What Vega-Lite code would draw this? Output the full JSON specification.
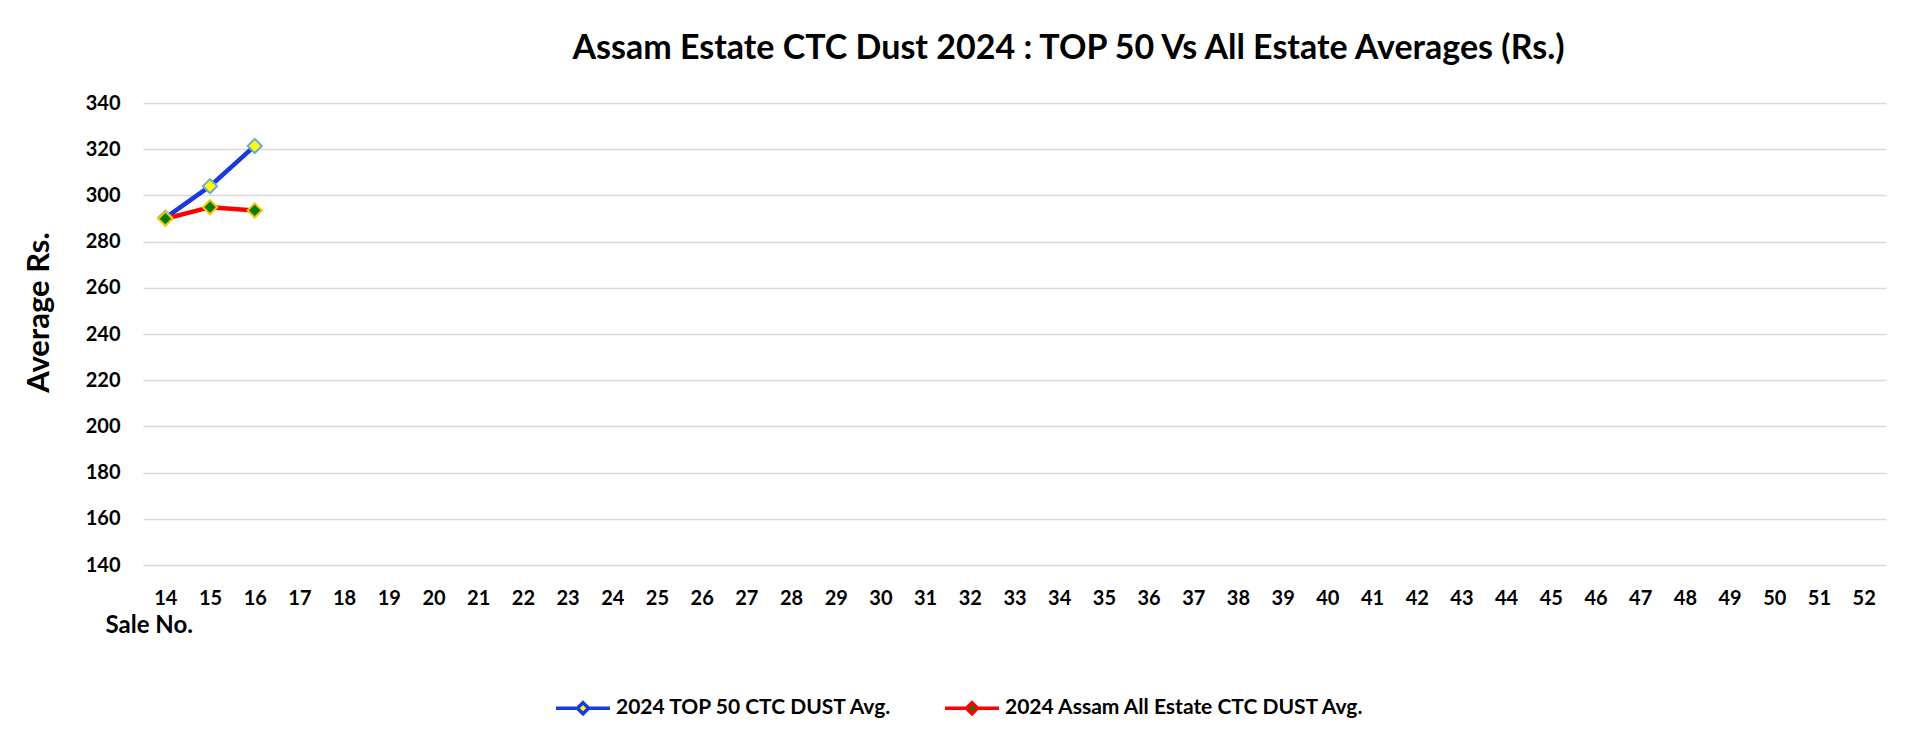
{
  "$schema": "https://vega.github.io/schema/vega-lite/v6.json",
  "width": 1743,
  "height": 462,
  "autosize": {"type": "none"},
  "padding": {"left": 143, "top": 103, "right": 22, "bottom": 177},
  "background": "white",
  "config": {
    "font": "Lato",
    "view": {"stroke": null},
    "axis": {"labelFont": "Lato", "titleFont": "Lato"},
    "legend": {"labelFont": "Lato"}
  },
  "title": {
    "text": "Assam Estate CTC Dust 2024 : TOP 50 Vs All Estate Averages (Rs.)",
    "font": "Lato",
    "fontSize": 34,
    "fontWeight": "bold",
    "color": "#000000",
    "anchor": "middle",
    "frame": "group",
    "baseline": "alphabetic",
    "offset": 0,
    "dx": 54
  },
  "data": {
    "values": [
      {"sale": "14", "series": "2024 TOP 50 CTC DUST Avg.", "avg": 290.3},
      {"sale": "15", "series": "2024 TOP 50 CTC DUST Avg.", "avg": 304.0},
      {"sale": "16", "series": "2024 TOP 50 CTC DUST Avg.", "avg": 321.4},
      {"sale": "14", "series": "2024 Assam All Estate CTC DUST Avg.", "avg": 289.9},
      {"sale": "15", "series": "2024 Assam All Estate CTC DUST Avg.", "avg": 294.9},
      {"sale": "16", "series": "2024 Assam All Estate CTC DUST Avg.", "avg": 293.5}
    ]
  },
  "encoding": {
    "x": {
      "field": "sale",
      "type": "ordinal",
      "sort": null,
      "scale": {
        "type": "point",
        "padding": 0.5,
        "domain": ["14","15","16","17","18","19","20","21","22","23","24","25","26","27","28","29","30","31","32","33","34","35","36","37","38","39","40","41","42","43","44","45","46","47","48","49","50","51","52"]
      },
      "axis": {
        "title": "Sale No.",
        "titleFontSize": 24,
        "titleFontWeight": "bold",
        "titleColor": "#000000",
        "titleAnchor": "start",
        "titleAlign": "left",
        "titleBaseline": "middle",
        "titleX": -38,
        "titleY": 60,
        "labelAngle": 0,
        "labelFontSize": 20,
        "labelFontWeight": "bold",
        "labelColor": "#000000",
        "labelPadding": 23,
        "ticks": false,
        "domain": false,
        "grid": false
      }
    },
    "y": {
      "field": "avg",
      "type": "quantitative",
      "scale": {"domain": [140, 340], "nice": false, "zero": false},
      "axis": {
        "title": "Average Rs.",
        "titleFontSize": 31,
        "titleFontWeight": "bold",
        "titleColor": "#000000",
        "titleX": -104,
        "titleY": 209,
        "titleAngle": -90,
        "titleAlign": "center",
        "titleBaseline": "middle",
        "values": [140,160,180,200,220,240,260,280,300,320,340],
        "labelFontSize": 20,
        "labelFontWeight": "bold",
        "labelColor": "#000000",
        "labelPadding": 23,
        "ticks": false,
        "domain": false,
        "grid": true,
        "gridColor": "#D9D9D9",
        "gridWidth": 1.5
      }
    }
  },
  "layer": [
    {
      "mark": {"type": "line", "strokeWidth": 4.5},
      "encoding": {
        "stroke": {
          "field": "series",
          "type": "nominal",
          "scale": {
            "domain": ["2024 TOP 50 CTC DUST Avg.", "2024 Assam All Estate CTC DUST Avg."],
            "range": ["#1A3BD6", "#FF0000"]
          },
          "legend": {
            "title": null,
            "orient": "none",
            "direction": "horizontal",
            "legendX": 411,
            "legendY": 594,
            "symbolType": "M-3,0L-0.62,0M0.62,0L3,0M0,-0.62L0.62,0L0,0.62L-0.62,0Z",
            "symbolSize": 324,
            "symbolStrokeWidth": 3.5,
            "symbolOffset": 18,
            "labelOffset": 22,
            "labelFontSize": 21,
            "labelFontWeight": "bold",
            "labelColor": "#000000",
            "labelLimit": 600,
            "columnPadding": 45,
            "encode": {
              "symbols": {
                "update": {
                  "fill": {"signal": "datum.value === '2024 TOP 50 CTC DUST Avg.' ? '#FFFF00' : '#008000'"},
                  "opacity": {"value": 1}
                }
              }
            }
          }
        }
      }
    },
    {
      "mark": {"type": "point", "shape": "diamond", "filled": true, "size": 200, "strokeWidth": 2, "opacity": 1},
      "encoding": {
        "fill": {
          "field": "series",
          "type": "nominal",
          "scale": {
            "domain": ["2024 TOP 50 CTC DUST Avg.", "2024 Assam All Estate CTC DUST Avg."],
            "range": ["#FFFF00", "#008000"]
          },
          "legend": null
        },
        "stroke": {
          "field": "series",
          "type": "nominal",
          "scale": {
            "domain": ["2024 TOP 50 CTC DUST Avg.", "2024 Assam All Estate CTC DUST Avg."],
            "range": ["#6FA8DC", "#FFC000"]
          },
          "legend": null
        }
      }
    }
  ],
  "resolve": {"scale": {"stroke": "independent"}, "legend": {"stroke": "independent"}}
}
